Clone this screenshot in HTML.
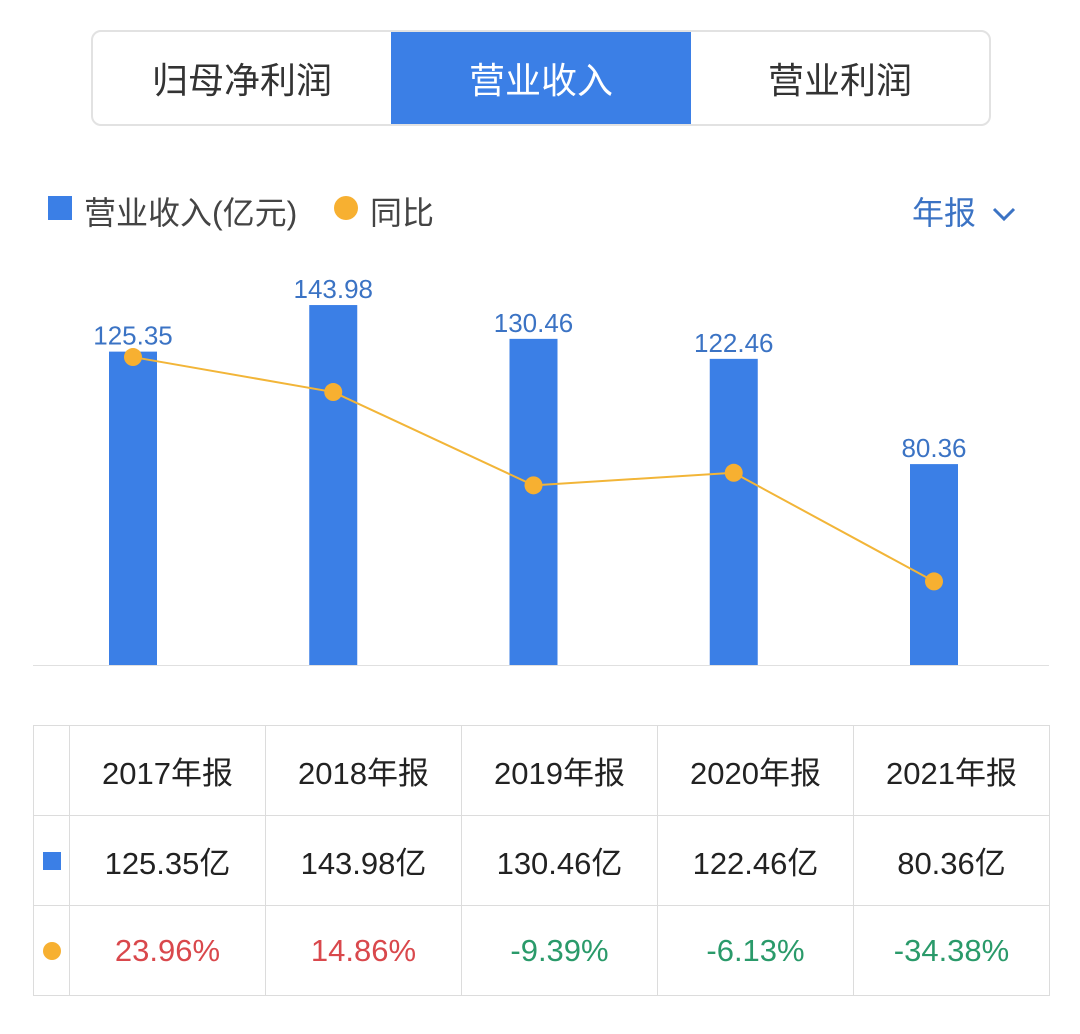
<!DOCTYPE html>
<html><head><meta charset="utf-8"><style>
body{margin:0;width:1080px;height:1034px;background:#fff;font-family:"Liberation Sans","Noto Sans CJK SC",sans-serif;position:relative;overflow:hidden}
.abs{position:absolute}
.tabs{left:91px;top:30px;width:896px;height:92px;border:2px solid #e2e2e2;border-radius:10px;display:flex;overflow:hidden}
.tab{flex:0 0 auto;display:flex;align-items:center;justify-content:center;font-size:36px;color:#333}
table{position:absolute;left:33px;top:725px;border-collapse:collapse}
td{border:1px solid #dcdcdc;height:89px;text-align:center;font-size:31px;color:#222;padding:0}
</style></head><body>
<div class="abs tabs">
 <div class="tab" style="width:298px">归母净利润</div>
 <div class="tab" style="width:300px;background:#3b7fe6;color:#fff">营业收入</div>
 <div class="tab" style="width:298px">营业利润</div>
</div>
<div class="abs" style="left:48px;top:196px;width:24px;height:24px;background:#3b7fe6"></div>
<div class="abs" style="left:84px;top:188px;font-size:32px;color:#444">营业收入(亿元)</div>
<div class="abs" style="left:334px;top:196px;width:24px;height:24px;border-radius:50%;background:#f7b031"></div>
<div class="abs" style="left:370px;top:188px;font-size:32px;color:#444">同比</div>
<div class="abs" style="left:912px;top:188px;font-size:32px;color:#3b73c4">年报 <svg width="26" height="20" viewBox="0 0 26 20" style="margin-left:6px"><path d="M3 5 L13 15 L23 5" stroke="#3b73c4" stroke-width="3" fill="none"/></svg></div>
<svg class="abs" style="left:0;top:0" width="1080" height="720" id="chart"></svg>
<table>
<tr><td style="width:35px"></td><td style="width:195px">2017年报</td><td style="width:195px">2018年报</td><td style="width:195px">2019年报</td><td style="width:195px">2020年报</td><td style="width:195px">2021年报</td></tr>
<tr><td><div style="width:18px;height:18px;background:#3b7fe6;margin:auto"></div></td><td>125.35亿</td><td>143.98亿</td><td>130.46亿</td><td>122.46亿</td><td>80.36亿</td></tr>
<tr><td><div style="width:18px;height:18px;border-radius:50%;background:#f7b031;margin:auto"></div></td><td style="color:#d9484c">23.96%</td><td style="color:#d9484c">14.86%</td><td style="color:#2a9a6a">-9.39%</td><td style="color:#2a9a6a">-6.13%</td><td style="color:#2a9a6a">-34.38%</td></tr>
</table>
<script>
const categories=["2017","2018","2019","2020","2021"];
const revenue=[125.35,143.98,130.46,122.46,80.36];
const yoy=[23.96,14.86,-9.39,-6.13,-34.38];
const NS="http://www.w3.org/2000/svg";
const svg=document.getElementById('chart');
const xPos=i=>133+i*200.25;
const yBar=v=>665-v*2.5;
const yLine=v=>449.2-v*3.846;
function mk(t,a){const e=document.createElementNS(NS,t);for(const k in a)e.setAttribute(k,a[k]);svg.appendChild(e);return e;}
const base=mk('line',{x1:33,x2:1049,y1:665.5,y2:665.5,stroke:'#e0e0e0','stroke-width':1});


revenue.forEach((v,i)=>{
 const r=mk('rect',{x:xPos(i)-24,y:yBar(v),width:48,height:665-yBar(v),fill:'#3b7fe6'});
 
 
 const t=mk('text',{x:xPos(i),y:yBar(v)-7,'text-anchor':'middle','font-size':26,fill:'#3b73c4','font-family':'Liberation Sans, sans-serif'});
 t.textContent=v.toFixed(2);
 
 
});
const pl=mk('polyline',{points:yoy.map((v,i)=>xPos(i)+','+yLine(v)).join(' '),fill:'none',stroke:'#f2b538','stroke-width':2});


yoy.forEach((v,i)=>{
 const c=mk('circle',{cx:xPos(i),cy:yLine(v),r:9,fill:'#f7b031'});
 
 
});
</script>
</body></html>
